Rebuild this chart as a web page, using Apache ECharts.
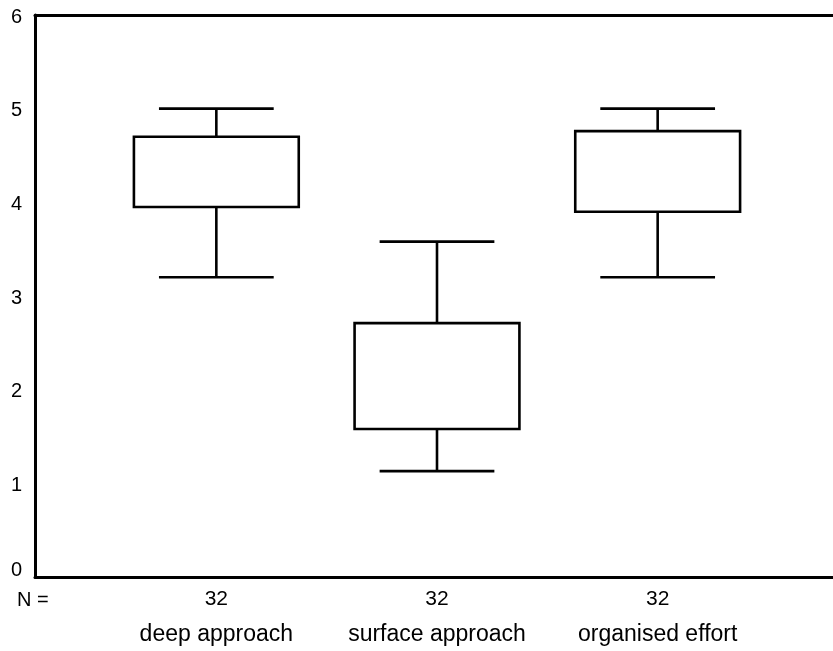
<!DOCTYPE html>
<html>
<head>
<meta charset="utf-8">
<script src="https://cdn.jsdelivr.net/npm/echarts@6/dist/echarts.min.js"></script>
<style>html,body{margin:0;padding:0;background:#fff}#c{width:833px;height:651px}</style>
</head>
<body>
<div id="c"></div>
<script>
var categories = ['deep approach', 'surface approach', 'organised effort'];
var nValues = [32, 32, 32];
var whiskerLow = [3.20, 1.13, 3.20];
var q1 = [3.95, 1.58, 3.90];
var q3 = [4.70, 2.71, 4.76];
var whiskerHigh = [5.00, 3.58, 5.00];
var yTicks = [0, 1, 2, 3, 4, 5, 6];

var boxData = categories.map(function (c, i) {
  return [i, whiskerLow[i], q1[i], q3[i], whiskerHigh[i]];
});

var FONT = 'Liberation Sans, Arial, Helvetica, sans-serif';
var chart = echarts.init(document.getElementById('c'), null, {renderer: 'canvas'});

function renderBox(params, api) {
  var i = api.value(0);
  var pLow = api.coord([i, api.value(1)]);
  var pQ1 = api.coord([i, api.value(2)]);
  var pQ3 = api.coord([i, api.value(3)]);
  var pHigh = api.coord([i, api.value(4)]);
  var band = api.size([1, 0])[0];
  var boxW = band * 0.747;
  var capW = band * 0.52;
  var x = pQ1[0];
  var style = {stroke: '#000', lineWidth: 2.6, fill: null};
  return {
    type: 'group',
    children: [
      {type: 'line', shape: {x1: x, y1: pHigh[1], x2: x, y2: pQ3[1]}, style: style},
      {type: 'line', shape: {x1: x, y1: pQ1[1], x2: x, y2: pLow[1]}, style: style},
      {type: 'line', shape: {x1: x - capW / 2, y1: pHigh[1], x2: x + capW / 2, y2: pHigh[1]}, style: style},
      {type: 'line', shape: {x1: x - capW / 2, y1: pLow[1], x2: x + capW / 2, y2: pLow[1]}, style: style},
      {type: 'rect', shape: {x: x - boxW / 2, y: pQ3[1], width: boxW, height: pQ1[1] - pQ3[1]},
        style: {stroke: '#000', lineWidth: 2.6, fill: '#fff'}}
    ]
  };
}

chart.setOption({
  animation: false,
  backgroundColor: '#fff',
  grid: [
    {left: 35, top: 15, right: -30, bottom: 74},
    {left: 106, top: 15, width: 662, bottom: 74}
  ],
  xAxis: [
    {gridIndex: 0, type: 'value', min: 0, max: 1, position: 'bottom',
      axisLine: {show: true, lineStyle: {color: '#000', width: 3}},
      axisTick: {show: false}, axisLabel: {show: false}, splitLine: {show: false}},
    {gridIndex: 0, type: 'value', min: 0, max: 1, position: 'top',
      axisLine: {show: true, lineStyle: {color: '#000', width: 3}},
      axisTick: {show: false}, axisLabel: {show: false}, splitLine: {show: false}},
    {gridIndex: 1, type: 'category', data: categories,
      axisLine: {show: false}, axisTick: {show: false}, splitLine: {show: false},
      axisLabel: {
        margin: 10, interval: 0,
        formatter: function (v, idx) { return '{n|' + nValues[idx] + '}\n{c|' + v + '}'; },
        rich: {
          n: {fontFamily: FONT, fontSize: 21, color: '#000', lineHeight: 24},
          c: {fontFamily: FONT, fontSize: 23, color: '#000', lineHeight: 48}
        }
      }}
  ],
  yAxis: [
    {gridIndex: 0, type: 'value', min: 0, max: 6, interval: 1,
      axisLine: {show: true, lineStyle: {color: '#000', width: 3}},
      axisTick: {show: false}, splitLine: {show: false},
      axisLabel: {color: '#000', fontFamily: FONT, fontSize: 20, margin: 13,
        formatter: function (v) {
          if (yTicks.indexOf(v) < 0) return '';
          return (v === 0 ? '{z|' : '{t|') + v + '}';
        },
        rich: {
          t: {fontFamily: FONT, fontSize: 20, color: '#000', padding: [4, 0, 0, 0]},
          z: {fontFamily: FONT, fontSize: 20, color: '#000', padding: [0, 0, 14, 0]}
        }}},
    {gridIndex: 1, type: 'value', min: 0, max: 6, show: false}
  ],
  graphic: [
    {type: 'text', left: 17, top: 590, style: {text: 'N =', fontFamily: FONT, fontSize: 20, fill: '#000'}}
  ],
  series: [
    {type: 'custom', xAxisIndex: 2, yAxisIndex: 1, renderItem: renderBox,
      encode: {x: 0, y: [1, 2, 3, 4]}, data: boxData, silent: true}
  ]
});
</script>
</body>
</html>
